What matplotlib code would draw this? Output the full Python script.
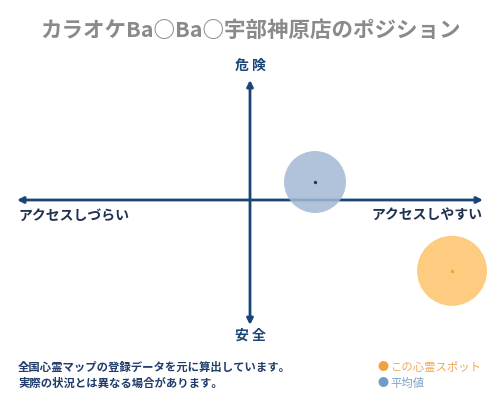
import matplotlib
matplotlib.use("Agg")
import matplotlib.pyplot as plt

plt.rcParams['font.family'] = ['Noto Sans CJK JP', 'DejaVu Sans']

title = "カラオケBa○Ba○宇部神原店のポジション"
label_top = "危 険"
label_bottom = "安 全"
label_left = "アクセスしづらい"
label_right = "アクセスしやすい"
notes = ["全国心霊マップの登録データを元に算出しています。", "実際の状況とは異なる場合があります。"]
legend_labels = ["この心霊スポット", "平均値"]

spot_names = ["この心霊スポット", "平均値"]
spot_x = [0.867, 0.279]
spot_y = [-0.59, 0.15]
spot_size = [2540, 1990]
spot_color = ["#fdc46a", "#a3b9d4"]
dot_color = ["#f5a623", "#1f3b5e"]

navy = "#1a4577"

fig = plt.figure(figsize=(5, 4), dpi=100)
fig.patch.set_facecolor("white")
ax = fig.add_axes([17/500, 75/400, 466/500, 245/400])
ax.set_xlim(-1, 1)
ax.set_ylim(-125/120, 1)
ax.axis("off")

arrow = dict(arrowstyle="-|>", color=navy, lw=2, mutation_scale=9, shrinkA=0, shrinkB=0)
ax.annotate("", xy=(1, 0), xytext=(0, 0), arrowprops=arrow)
ax.annotate("", xy=(-1, 0), xytext=(0, 0), arrowprops=arrow)
ax.annotate("", xy=(0, 1), xytext=(0, 0), arrowprops=arrow)
ax.annotate("", xy=(0, -125/120), xytext=(0, 0), arrowprops=arrow)

for x, y, s, c, d in zip(spot_x, spot_y, spot_size, spot_color, dot_color):
    ax.scatter([x], [y], s=s, color=c, alpha=0.85, edgecolors="none", zorder=3, clip_on=False)
    ax.scatter([x], [y], s=2, color=d, zorder=4, clip_on=False)

fig.text(0.5, 1 - 30/400, title, ha="center", va="center", fontsize=15.5,
         fontweight="bold", color="#8a8a8a")
fig.text(0.5, 1 - 66/400, label_top, ha="center", va="center", fontsize=10,
         fontweight="bold", color=navy)
fig.text(0.5, 1 - 336/400, label_bottom, ha="center", va="center", fontsize=10,
         fontweight="bold", color=navy)
fig.text(18/500, 1 - 216/400, label_left, ha="left", va="center", fontsize=10,
         fontweight="bold", color="#1f3050")
fig.text(482/500, 1 - 216/400, label_right, ha="right", va="center", fontsize=10,
         fontweight="bold", color="#1f3050")

fig.text(18/500, 1 - 367/400, notes[0], ha="left", va="center", fontsize=8.2,
         fontweight="bold", color="#1f3c6b")
fig.text(18/500, 1 - 383/400, notes[1], ha="left", va="center", fontsize=8.2,
         fontweight="bold", color="#1f3c6b")

dot_colors = ["#f0a040", "#6f9cc6"]
leg_colors = ["#f0a858", "#7ea3c8"]
leg_y = [367, 383]
for lbl, dc, c, yy in zip(legend_labels, dot_colors, leg_colors, leg_y):
    fig.text(383/500, 1 - yy/400, "●", ha="center", va="center", fontsize=8, color=dc)
    fig.text(390/500, 1 - yy/400, lbl, ha="left", va="center", fontsize=8.2,
             color=c)

fig.savefig("out.png", dpi=100, facecolor="white")
